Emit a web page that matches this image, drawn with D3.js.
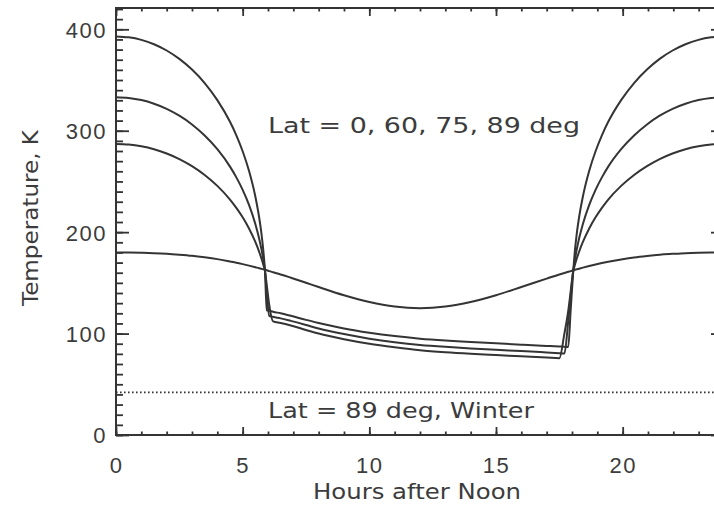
<!DOCTYPE html>
<html>
<head>
<meta charset="utf-8">
<script src="https://cdn.jsdelivr.net/npm/d3@7"></script>
<style>
  html, body { margin: 0; padding: 0; background: #ffffff; }
  svg { display: block; font-family: "DejaVu Sans", sans-serif; overflow: hidden; }
</style>
</head>
<body>
<svg id="chart" width="714" height="506"></svg>
<script>
// Local time samples (hours after noon)
const hours = [0, 0.5, 1, 1.5, 2, 2.5, 3, 3.5, 4, 4.5, 4.75, 5, 5.25, 5.5, 5.65, 5.75, 5.82, 5.88,
               5.95, 6.05, 6.2, 6.5, 6.9, 7.5, 8, 9, 10, 11, 12, 13, 14, 15, 16, 17, 17.5, 17.7, 17.85, 17.95,
               18.05, 18.11, 18.18, 18.28, 18.43, 18.68, 18.93, 19.18, 19.43, 19.94, 20.45, 20.96,
               21.46, 21.97, 22.48, 22.99, 23.49, 24];

// Surface temperature (K) at each latitude
const lat0  = [393, 392.1, 389.6, 385.3, 379.1, 370.8, 360.3, 347.0, 330.2, 308.8, 295.5, 279.8, 260.5, 235.2, 214.7, 196.9, 180.6, 162,
               123, 122.5, 121.5, 120, 117.5, 113.5, 110.5, 105, 100.8, 97.5, 95, 93.2, 91.8, 90.4, 89.1, 87.8, 87.2, 87, 86.7, 124,
               162, 180.6, 196.9, 214.7, 235.2, 260.5, 279.8, 295.5, 308.8, 330.2, 347.0, 360.3,
               370.8, 379.1, 385.3, 389.6, 392.1, 393];
const lat60 = [333, 332.3, 330.2, 326.6, 321.6, 314.8, 306.2, 295.3, 281.8, 264.6, 254.0, 241.7, 226.9, 208.1, 193.7, 182.0, 172.1, 162,
               140, 117.5, 116.5, 115, 112.5, 108.5, 105, 99.5, 95, 91.5, 88.8, 86.9, 85.4, 84, 82.8, 81.4, 80.7, 80.4, 112, 138,
               162, 172.1, 182.0, 193.7, 208.1, 226.9, 241.7, 254.0, 264.6, 281.8, 295.3, 306.2,
               314.8, 321.6, 326.6, 330.2, 332.3, 333];
const lat75 = [287, 286.4, 284.7, 281.8, 277.6, 272.1, 265.1, 256.4, 245.6, 232.1, 223.9, 214.6, 203.6, 190.3, 180.7, 173.3, 167.5, 162,
               148, 128, 112, 110.5, 108, 103.5, 100, 94.5, 90, 86.5, 83.5, 81.5, 80, 78.8, 77.6, 76.4, 75.7, 100, 122, 142,
               162, 167.5, 173.3, 180.7, 190.3, 203.6, 214.6, 223.9, 232.1, 245.6, 256.4, 265.1,
               272.1, 277.6, 281.8, 284.7, 286.4, 287];
const lat89 = [180, 179.9, 179.7, 179.3, 178.7, 177.8, 176.7, 175.2, 173.4, 171.1, 169.9, 168.5, 167.0, 165.4, 164.4, 163.8, 163.3, 162.9,
               162.4, 161.6, 160.5, 158.3, 155.1, 150.1, 145.9, 137.8, 131.1, 126.6, 125, 126.6, 131.1, 137.8, 145.9, 154.2, 158.3, 159.8, 160.9, 161.6,
               162.4, 162.8, 163.3, 164.0, 165.0, 166.6, 168.1, 169.5, 170.8, 173.1, 175.1, 176.6,
               177.8, 178.6, 179.3, 179.7, 179.9, 180];

// Polar winter: constant temperature all day
const winterTemp = 42;

const xMajorTicks = [0, 5, 10, 15, 20];
const yMajorTicks = [0, 100, 200, 300, 400];

const seriesList = [lat0, lat60, lat75, lat89];

const svg = d3.select("#chart");
const ink = "#343434";
const textInk = "#3c3c3c";

const x = d3.scaleLinear().domain([0, 24]).range([116, 724]);
const y = d3.scaleLinear().domain([0, 421]).range([435, 8]);

// Frame
svg.append("rect")
  .attr("x", x(0)).attr("y", y(421))
  .attr("width", x(24) - x(0)).attr("height", y(0) - y(421))
  .attr("fill", "none").attr("stroke", ink).attr("stroke-width", 2);

const xMinor = d3.range(0, 25, 1);
const yMinor = d3.range(0, 421, 10);

function styleAxis(g) {
  g.select(".domain").remove();
  g.selectAll(".tick line").attr("stroke", ink).attr("stroke-width", 1.8);
}

// Bottom axis: minor + major ticks, pointing inward
svg.append("g").attr("transform", `translate(0,${y(0)})`)
  .call(d3.axisBottom(x).tickValues(xMinor).tickSize(-3.5).tickFormat(""))
  .call(styleAxis);
svg.append("g").attr("transform", `translate(0,${y(0)})`)
  .call(d3.axisBottom(x).tickValues(xMajorTicks).tickSize(-8).tickPadding(38).tickFormat(d3.format("d")))
  .call(styleAxis)
  .call(g => g.selectAll("text").attr("font-size", 22).attr("fill", textInk)
      .attr("letter-spacing", 1.5).attr("dy", 0));

// Top axis
svg.append("g").attr("transform", `translate(0,${y(421)})`)
  .call(d3.axisTop(x).tickValues(xMinor).tickSize(-3.5).tickFormat(""))
  .call(styleAxis);
svg.append("g").attr("transform", `translate(0,${y(421)})`)
  .call(d3.axisTop(x).tickValues(xMajorTicks).tickSize(-8).tickFormat(""))
  .call(styleAxis);

// Left axis
svg.append("g").attr("transform", `translate(${x(0)},0)`)
  .call(d3.axisLeft(y).tickValues(yMinor).tickSize(-7).tickFormat(""))
  .call(styleAxis);
svg.append("g").attr("transform", `translate(${x(0)},0)`)
  .call(d3.axisLeft(y).tickValues(yMajorTicks).tickSize(-13).tickPadding(9).tickFormat(d3.format("d")))
  .call(styleAxis)
  .call(g => g.selectAll("text").attr("font-size", 22).attr("fill", textInk)
      .attr("letter-spacing", 1.5).attr("dy", "0.36em"));

// Right axis
svg.append("g").attr("transform", `translate(${x(24)},0)`)
  .call(d3.axisRight(y).tickValues(yMinor).tickSize(-7).tickFormat(""))
  .call(styleAxis);
svg.append("g").attr("transform", `translate(${x(24)},0)`)
  .call(d3.axisRight(y).tickValues(yMajorTicks).tickSize(-13).tickFormat(""))
  .call(styleAxis);

// Temperature curves
const line = d3.line()
  .x((d, i) => x(hours[i]))
  .y(d => y(d))
  .curve(d3.curveMonotoneX);

svg.append("g").selectAll("path")
  .data(seriesList)
  .join("path")
  .attr("d", line)
  .attr("fill", "none")
  .attr("stroke", ink)
  .attr("stroke-width", 2)
  .attr("stroke-linejoin", "round");

// Winter level (dotted)
svg.append("line")
  .attr("x1", x(0)).attr("x2", x(24))
  .attr("y1", y(winterTemp)).attr("y2", y(winterTemp))
  .attr("stroke", ink).attr("stroke-width", 1.8)
  .attr("stroke-dasharray", "1.6,2.4");

// Annotations
svg.append("text")
  .attr("x", 268).attr("y", 133)
  .attr("font-size", 21).attr("fill", textInk)
  .attr("textLength", 312).attr("lengthAdjust", "spacingAndGlyphs")
  .text("Lat = 0, 60, 75, 89 deg");

svg.append("text")
  .attr("x", 268).attr("y", 418)
  .attr("font-size", 21).attr("fill", textInk)
  .attr("textLength", 266).attr("lengthAdjust", "spacingAndGlyphs")
  .text("Lat = 89 deg, Winter");

// Axis titles
svg.append("text")
  .attr("x", 417).attr("y", 499)
  .attr("text-anchor", "middle")
  .attr("font-size", 21).attr("fill", textInk)
  .attr("textLength", 208).attr("lengthAdjust", "spacingAndGlyphs")
  .text("Hours after Noon");

svg.append("text")
  .attr("transform", "translate(38,218) rotate(-90)")
  .attr("text-anchor", "middle")
  .attr("font-size", 21).attr("fill", textInk)
  .attr("textLength", 176).attr("lengthAdjust", "spacingAndGlyphs")
  .text("Temperature, K");
</script>
</body>
</html>
